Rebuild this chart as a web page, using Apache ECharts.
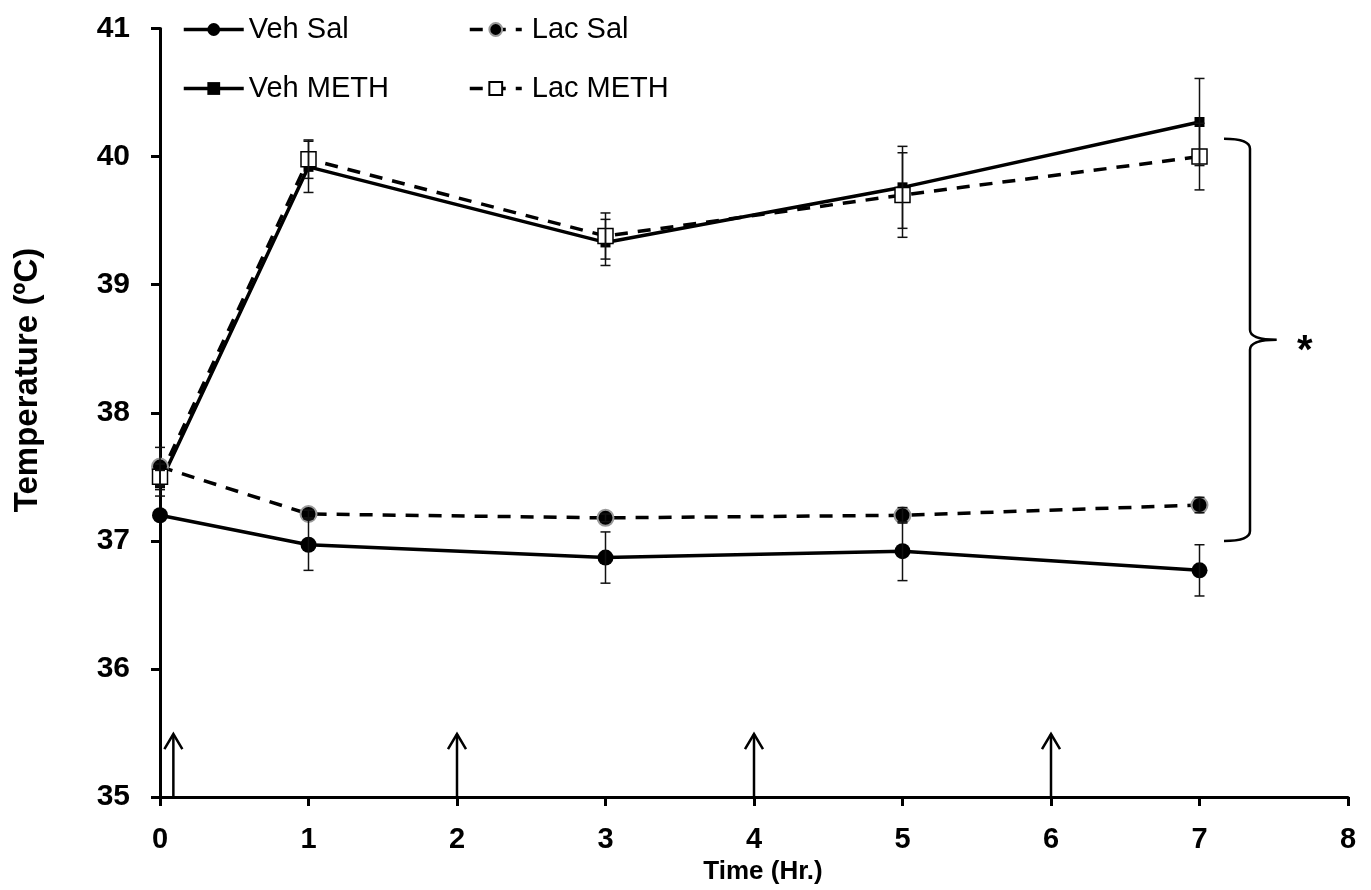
<!DOCTYPE html>
<html>
<head>
<meta charset="utf-8">
<script src="https://cdn.jsdelivr.net/npm/echarts@6/dist/echarts.min.js"></script>
<style>
html,body{margin:0;padding:0;background:#fff;}
#c{width:1371px;height:890px;}
</style>
</head>
<body>
<div id="c"></div>
<script>
// ---- data ----
var times = [0, 1, 3, 5, 7];
var vehSal = [37.20, 36.97, 36.87, 36.92, 36.77];
var vehSalErr = [0.00, 0.20, 0.20, 0.23, 0.20];
var lacSal = [37.58, 37.21, 37.18, 37.20, 37.28];
var lacSalErr = [0.15, 0.03, 0.03, 0.06, 0.06];
var vehMeth = [37.45, 39.92, 39.33, 39.76, 40.27];
var vehMethErr = [0.10, 0.20, 0.18, 0.32, 0.34];
var lacMeth = [37.50, 39.98, 39.38, 39.70, 40.00];
var lacMethErr = [0.10, 0.15, 0.18, 0.33, 0.26];
var injectionTimes = [0.09, 2, 4, 6];
var arrowBase = 35, arrowTip = 35.5;
var braceX = [7.165, 7.34, 7.52];   // left stub, spine, point
var braceY = [37.0, 40.14];         // bottom, top
var xTicks = [0, 1, 2, 3, 4, 5, 6, 7, 8];
var yTicks = [35, 36, 37, 38, 39, 40, 41];

var FONT = '"Liberation Sans", Arial, sans-serif';

function pairs(ys) { return times.map(function (t, i) { return [t, ys[i]]; }); }
function errs(ys, es) { return times.map(function (t, i) { return [t, ys[i] - es[i], ys[i] + es[i]]; }); }

function errorSeries(name, ys, es) {
  return {
    type: 'custom', name: name + ' err', silent: true, z: 5,
    data: errs(ys, es),
    encode: { x: 0, y: [1, 2] },
    renderItem: function (params, api) {
      var x = api.value(0);
      var lo = api.coord([x, api.value(1)]);
      var hi = api.coord([x, api.value(2)]);
      if (Math.abs(hi[1] - lo[1]) < 0.5) return null;
      var w = 5;
      var st = { stroke: '#111', lineWidth: 1.5 };
      return {
        type: 'group', children: [
          { type: 'line', shape: { x1: lo[0], y1: lo[1], x2: hi[0], y2: hi[1] }, style: st },
          { type: 'line', shape: { x1: lo[0] - w, y1: lo[1], x2: lo[0] + w, y2: lo[1] }, style: st },
          { type: 'line', shape: { x1: hi[0] - w, y1: hi[1], x2: hi[0] + w, y2: hi[1] }, style: st }
        ]
      };
    }
  };
}

var chart = echarts.init(document.getElementById('c'));
var option = {
  animation: false,
  backgroundColor: '#fff',
  grid: { left: 160, right: 23, top: 28.5, bottom: 92, containLabel: false },
  legend: [
    {
      data: ['Veh Sal', 'Veh METH'], orient: 'vertical', left: 177, top: 10,
      itemWidth: 60, itemHeight: 16, itemGap: 30,
      lineStyle: { width: 3.5 },
      textStyle: { fontFamily: FONT, fontSize: 29, color: '#000' }
    },
    {
      data: ['Lac Sal', 'Lac METH'], orient: 'vertical', left: 463, top: 10,
      itemWidth: 52, itemHeight: 16, itemGap: 30,
      lineStyle: { width: 3.5 },
      textStyle: { fontFamily: FONT, fontSize: 29, color: '#000', padding: [0, 0, 0, 5] }
    }
  ],
  xAxis: {
    type: 'value', min: 0, max: 8, interval: 1,
    name: 'Time (Hr.)', nameLocation: 'middle', nameGap: 60,
    nameTextStyle: { fontFamily: FONT, fontSize: 26, fontWeight: 'bold', color: '#000', padding: [0, 0, 0, 18] },
    axisLine: { onZero: false, lineStyle: { color: '#000', width: 3 } },
    axisTick: { show: true, length: 9, lineStyle: { color: '#000', width: 3 } },
    axisLabel: { margin: 28, fontFamily: FONT, fontSize: 29, fontWeight: 'bold', color: '#000',
      formatter: function (v) { return xTicks.indexOf(v) >= 0 ? String(v) : ''; } },
    splitLine: { show: false }
  },
  yAxis: {
    type: 'value', min: 35, max: 41, interval: 1,
    axisLine: { show: true, onZero: false, lineStyle: { color: '#000', width: 3 } },
    axisTick: { show: true, length: 9, lineStyle: { color: '#000', width: 3 } },
    axisLabel: { margin: 30, fontFamily: FONT, fontSize: 30, fontWeight: 'bold', color: '#000',
      formatter: function (v) { return yTicks.indexOf(v) >= 0 ? String(v) : ''; } },
    splitLine: { show: false }
  },
  graphic: [
    {
      type: 'text', x: 28, y: 380, rotation: Math.PI / 2,
      style: { text: 'Temperature (ºC)', font: 'bold 33px ' + FONT, fill: '#000', textAlign: 'center', textVerticalAlign: 'middle' }
    }
  ],
  series: [
    {
      name: 'Veh Sal', type: 'line', data: pairs(vehSal), z: 4,
      symbol: 'circle', symbolSize: 16,
      lineStyle: { color: '#000', width: 3.5, type: 'solid' },
      itemStyle: { color: '#000', borderColor: '#000', borderWidth: 0 }
    },
    {
      name: 'Lac Sal', type: 'line', data: pairs(lacSal), z: 4,
      symbol: 'circle', symbolSize: 16,
      lineStyle: { color: '#000', width: 3.5, type: [13, 10] },
      itemStyle: { color: '#000', borderColor: '#9a9a9a', borderWidth: 2 }
    },
    {
      name: 'Veh METH', type: 'line', data: pairs(vehMeth), z: 4,
      symbol: 'rect', symbolSize: 10,
      lineStyle: { color: '#000', width: 3.5, type: 'solid' },
      itemStyle: { color: '#000', borderColor: '#000', borderWidth: 0 }
    },
    {
      name: 'Lac METH', type: 'line', data: pairs(lacMeth), z: 4,
      symbol: 'rect', symbolSize: 15,
      lineStyle: { color: '#000', width: 3.5, type: [13, 10] },
      itemStyle: { color: '#fff', borderColor: '#000', borderWidth: 1.5 }
    },
    errorSeries('Veh Sal', vehSal, vehSalErr),
    errorSeries('Lac Sal', lacSal, lacSalErr),
    errorSeries('Veh METH', vehMeth, vehMethErr),
    errorSeries('Lac METH', lacMeth, lacMethErr),
    {
      type: 'custom', name: 'injections', silent: true, z: 3,
      data: injectionTimes.map(function (t) { return [t, arrowBase, arrowTip]; }),
      encode: { x: 0, y: [1, 2] },
      renderItem: function (params, api) {
        var b = api.coord([api.value(0), api.value(1)]);
        var t = api.coord([api.value(0), api.value(2)]);
        var st = { stroke: '#000', lineWidth: 2.5, fill: null };
        return {
          type: 'group', children: [
            { type: 'line', shape: { x1: b[0], y1: b[1], x2: t[0], y2: t[1] + 1 }, style: st },
            { type: 'polyline', shape: { points: [[t[0] - 9, t[1] + 16], [t[0], t[1] + 1], [t[0] + 9, t[1] + 16]] }, style: st }
          ]
        };
      }
    },
    {
      type: 'custom', name: 'brace', silent: true, z: 3,
      data: [[braceX[0], braceX[1], braceX[2], braceY[0], braceY[1]]],
      encode: { x: [0, 1, 2], y: [3, 4] },
      renderItem: function (params, api) {
        var L = api.coord([api.value(0), api.value(4)]);
        var V = api.coord([api.value(1), api.value(3)]);
        var P = api.coord([api.value(2), api.value(3)]);
        var T = L[1], B = V[1], M = (T + B) / 2;
        var l = L[0], v = V[0], p = P[0], r = 10;
        var d = 'M' + l + ',' + T +
          ' Q' + v + ',' + T + ' ' + v + ',' + (T + r) +
          ' L' + v + ',' + (M - r) +
          ' Q' + v + ',' + M + ' ' + p + ',' + M +
          ' Q' + v + ',' + M + ' ' + v + ',' + (M + r) +
          ' L' + v + ',' + (B - r) +
          ' Q' + v + ',' + B + ' ' + l + ',' + B;
        return {
          type: 'group', children: [
            { type: 'path', shape: { pathData: d }, style: { stroke: '#000', lineWidth: 2.5, fill: null } },
            { type: 'text', x: p + 28, y: M + 12, style: { text: '*', font: 'bold 40px ' + FONT, fill: '#000', textAlign: 'center', textVerticalAlign: 'middle' } }
          ]
        };
      }
    }
  ]
};
chart.setOption(option);
</script>
</body>
</html>
